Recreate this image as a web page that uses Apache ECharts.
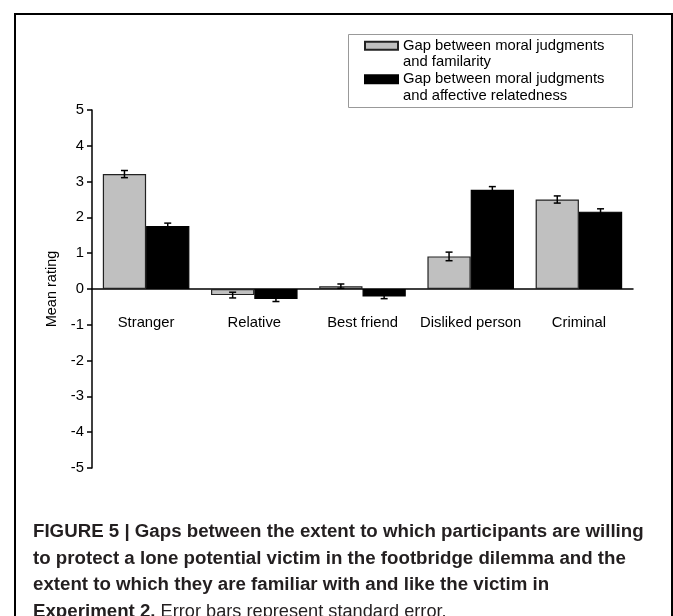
<!DOCTYPE html>
<html>
<head>
<meta charset="utf-8">
<script src="https://cdn.jsdelivr.net/npm/echarts@6/dist/echarts.min.js"></script>
<style>
html,body{margin:0;padding:0;background:#fff;}
#chart{width:673px;height:616px;}
</style>
</head>
<body>
<div id="chart"></div>
<script>
const categories = ['Stranger', 'Relative', 'Best friend', 'Disliked person', 'Criminal'];
const familiarityName = 'Gap between moral judgments\nand familarity';
const affectiveName = 'Gap between moral judgments\nand affective relatedness';
const familiarity = [3.21, -0.17, 0.08, 0.91, 2.50];
const familiarityErr = [0.10, 0.08, 0.06, 0.12, 0.10];
const affective = [1.76, -0.28, -0.21, 2.77, 2.16];
const affectiveErr = [0.08, 0.07, 0.06, 0.09, 0.08];
const yMin = -5, yMax = 5, yStep = 1;
const yAxisTitle = 'Mean rating';
const captionBold1 = 'FIGURE 5 | Gaps between the extent to which participants are willing';
const captionBold2 = 'to protect a lone potential victim in the footbridge dilemma and the';
const captionBold3 = 'extent to which they are familiar with and like the victim in';
const captionBold4 = 'Experiment 2.';
const captionNormal = 'Error bars represent standard error.';

const FONT = "'Liberation Sans', Arial, Helvetica, sans-serif";
const CAT_GAP = 0.2;
const GRID_TOP = 110, GRID_BOTTOM = 148, CHART_H = 616;
const zeroOffset = -(CHART_H - GRID_TOP - GRID_BOTTOM) * (0 - yMin) / (yMax - yMin);

function errRenderer(sign) {
  return function (params, api) {
    const xi = api.value(0), v = api.value(1), e = api.value(2);
    const catW = api.size([1, 0])[0];
    const barW = catW * (1 - CAT_GAP) / 2;
    const cx = api.coord([xi, v])[0] + sign * barW / 2;
    const top = api.coord([xi, v + e])[1];
    const bot = api.coord([xi, v - e])[1];
    const cap = 3.5;
    const st = { stroke: '#000', lineWidth: 1.5 };
    return {
      type: 'group',
      children: [
        { type: 'line', shape: { x1: cx, y1: top, x2: cx, y2: bot }, style: st },
        { type: 'line', shape: { x1: cx - cap, y1: top, x2: cx + cap, y2: top }, style: st },
        { type: 'line', shape: { x1: cx - cap, y1: bot, x2: cx + cap, y2: bot }, style: st }
      ]
    };
  };
}

const chart = echarts.init(document.getElementById('chart'), null, { renderer: 'canvas' });
chart.setOption({
  animation: false,
  backgroundColor: '#fff',
  textStyle: { fontFamily: FONT },
  title: {
    left: 28,
    top: 514,
    text: '{b|' + captionBold1 + '}\n{b|' + captionBold2 + '}\n{b|' + captionBold3 + '}\n{b|' + captionBold4 + '} {n|' + captionNormal + '}',
    textStyle: {
      fontFamily: FONT,
      rich: {
        b: { fontFamily: FONT, fontWeight: 'bold', fontSize: 18.7, lineHeight: 26.5, color: '#231f20' },
        n: { fontFamily: FONT, fontWeight: 'normal', fontSize: 18.2, lineHeight: 26.5, color: '#231f20' }
      }
    }
  },
  graphic: [
    { type: 'rect', z: 0, shape: { x: 15, y: 14, width: 657, height: 700 }, style: { fill: 'none', stroke: '#000', lineWidth: 2 }, silent: true },
    { type: 'rect', z: 0, shape: { x: 348.5, y: 34.5, width: 284, height: 73 }, style: { fill: '#fff', stroke: '#999', lineWidth: 1 }, silent: true }
  ],
  legend: {
    orient: 'vertical',
    left: 364,
    top: 21,
    padding: 0,
    itemGap: -16,
    itemWidth: 33,
    itemHeight: 8,
    icon: 'rect',
    data: [familiarityName, affectiveName],
    formatter: function (name) { return ' \n' + name; },
    textStyle: { fontFamily: FONT, fontSize: 14.8, color: '#000', lineHeight: 16.5 }
  },
  grid: { left: 92, right: 40, top: GRID_TOP, bottom: GRID_BOTTOM, containLabel: false },
  xAxis: {
    type: 'category',
    data: categories,
    offset: zeroOffset,
    axisLine: { onZero: false, lineStyle: { color: '#000', width: 1.5 } },
    axisTick: { show: false },
    axisLabel: { color: '#000', fontSize: 14.8, fontFamily: FONT, margin: 26, interval: 0 },
    splitLine: { show: false }
  },
  yAxis: {
    type: 'value',
    min: yMin,
    max: yMax,
    interval: yStep,
    name: yAxisTitle,
    nameLocation: 'middle',
    nameGap: 30,
    nameTextStyle: { color: '#000', fontSize: 14.5, fontFamily: FONT },
    axisLine: { show: true, onZero: false, lineStyle: { color: '#000', width: 1.5 } },
    axisTick: { show: true, length: 5, lineStyle: { color: '#000', width: 1.5 } },
    axisLabel: { color: '#000', fontSize: 14.8, fontFamily: FONT, margin: 8 },
    splitLine: { show: false }
  },
  series: [
    {
      name: familiarityName,
      type: 'bar',
      data: familiarity,
      barGap: '0%',
      barCategoryGap: (CAT_GAP * 100) + '%',
      itemStyle: { color: '#c0c0c0', borderColor: '#222', borderWidth: 1.2 },
      z: 2
    },
    {
      name: affectiveName,
      type: 'bar',
      data: affective,
      barGap: '0%',
      barCategoryGap: (CAT_GAP * 100) + '%',
      itemStyle: { color: '#000', borderColor: '#000', borderWidth: 1.2 },
      z: 2
    },
    {
      type: 'custom',
      renderItem: errRenderer(-1),
      data: familiarity.map((v, i) => [i, v, familiarityErr[i]]),
      encode: { x: 0, y: 1 },
      z: 5,
      silent: true
    },
    {
      type: 'custom',
      renderItem: errRenderer(1),
      data: affective.map((v, i) => [i, v, affectiveErr[i]]),
      encode: { x: 0, y: 1 },
      z: 5,
      silent: true
    }
  ]
});
</script>
</body>
</html>
